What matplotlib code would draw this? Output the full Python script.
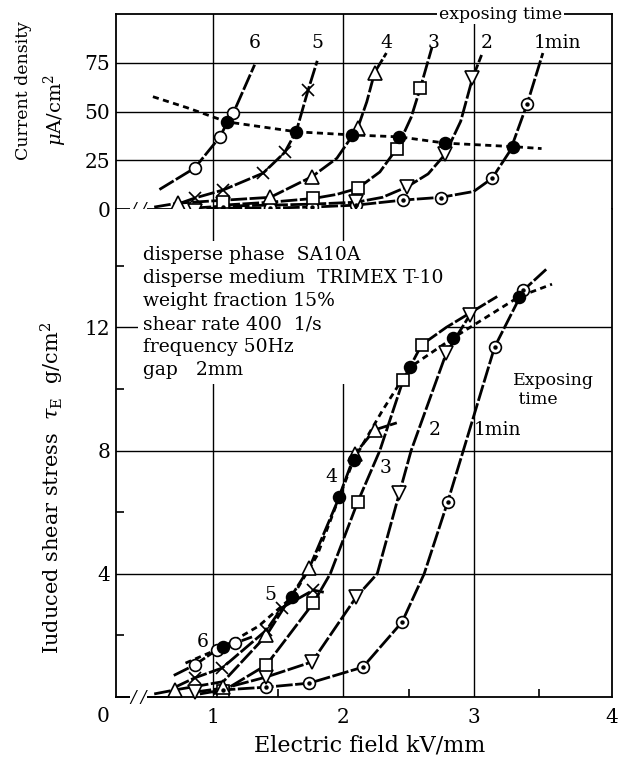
import matplotlib
matplotlib.use("Agg")
import matplotlib.pyplot as plt
import matplotlib.transforms as mtransforms

plt.rcParams["font.family"] = ["DejaVu Serif"]
plt.rcParams["mathtext.fontset"] = "dejavuserif"

# ---- upper panel : current density (uA/cm2) vs electric field (kV/mm) ----
cd1_lx = [0.95, 1.08, 1.44, 1.76, 2.10, 2.46, 2.75, 3.00, 3.14, 3.28, 3.41, 3.53]
cd1_ly = [0.3, 0.5, 0.5, 1.0, 2.0, 4.6, 6.0, 9.0, 15.7, 30.0, 54.0, 80.0]
cd1_x = [1.08, 1.44, 1.76, 2.10, 2.46, 2.75, 3.14, 3.41]
cd1_y = [1.0, 0.5, 1.0, 2.0, 4.6, 5.6, 15.7, 54.0]

cd2_lx = [0.86, 1.08, 1.44, 1.76, 2.10, 2.30, 2.49, 2.65, 2.78, 2.90, 2.99, 3.06]
cd2_ly = [0.5, 1.5, 2.0, 2.5, 3.5, 6.0, 11.4, 18.0, 28.0, 45.0, 67.0, 79.0]
cd2_x = [0.86, 1.08, 2.10, 2.49, 2.78, 2.99]
cd2_y = [-1.0, 2.5, 3.5, 11.4, 28.0, 67.0]

cd3_lx = [1.08, 1.44, 1.77, 1.95, 2.11, 2.28, 2.41, 2.52, 2.59, 2.68]
cd3_ly = [2.0, 3.5, 5.4, 7.5, 10.6, 19.0, 31.0, 47.0, 62.0, 83.0]
cd3_x = [1.08, 1.77, 2.11, 2.41, 2.59]
cd3_y = [3.5, 5.4, 10.6, 31.0, 62.0]

cd4_lx = [0.55, 0.73, 1.08, 1.44, 1.76, 1.95, 2.11, 2.18, 2.24, 2.33]
cd4_ly = [1.0, 3.0, 4.5, 6.0, 16.6, 26.0, 41.5, 55.0, 70.0, 80.0]
cd4_x = [0.73, 1.44, 1.76, 2.11, 2.24]
cd4_y = [3.0, 6.0, 16.6, 41.5, 70.0]

cd5_lx = [0.75, 0.86, 1.08, 1.385, 1.55, 1.64, 1.73, 1.80]
cd5_ly = [3.0, 5.6, 9.8, 18.4, 29.0, 40.0, 61.0, 76.0]
cd5_x = [0.86, 1.08, 1.385, 1.55, 1.73]
cd5_y = [5.6, 9.8, 18.4, 29.0, 61.0]

cd6_lx = [0.59, 0.86, 1.054, 1.107, 1.155, 1.32]
cd6_ly = [10.0, 21.0, 37.0, 44.0, 49.0, 74.0]
cd6_x = [0.86, 1.054, 1.155]
cd6_y = [21.0, 37.0, 49.0]

cdf_lx = [0.54, 0.80, 1.107, 1.64, 2.065, 2.43, 2.78, 3.30, 3.52]
cdf_ly = [57.6, 52.0, 44.7, 39.6, 38.0, 37.0, 33.8, 32.0, 31.0]
cdf_x = [1.107, 1.64, 2.065, 2.43, 2.78, 3.30]
cdf_y = [44.7, 39.6, 38.0, 37.0, 33.8, 32.0]

# ---- lower panel : induced shear stress (g/cm2) ----
s1_lx = [0.90, 1.08, 1.41, 1.74, 2.15, 2.45, 2.62, 2.80, 2.92, 3.16, 3.38, 3.56]
s1_ly = [0.10, 0.23, 0.32, 0.45, 0.97, 2.43, 4.0, 6.33, 8.0, 11.36, 13.2, 13.9]
s1_x = [1.08, 1.41, 1.74, 2.15, 2.45, 2.80, 3.16, 3.38]
s1_y = [0.23, 0.32, 0.45, 0.97, 2.43, 6.33, 11.36, 13.2]

s2_lx = [0.86, 1.10, 1.41, 1.76, 2.10, 2.26, 2.43, 2.52, 2.79, 2.97]
s2_ly = [0.16, 0.30, 0.65, 1.14, 3.25, 4.0, 6.62, 8.0, 11.17, 12.4]
s2_x = [0.86, 1.41, 1.76, 2.10, 2.43, 2.79, 2.97]
s2_y = [0.16, 0.65, 1.14, 3.25, 6.62, 11.17, 12.4]

s3_lx = [1.00, 1.08, 1.41, 1.77, 1.90, 2.11, 2.28, 2.46, 2.60, 2.79, 3.18]
s3_ly = [0.10, 0.20, 1.04, 3.05, 4.0, 6.33, 8.0, 10.3, 11.43, 12.0, 13.0]
s3_x = [1.08, 1.41, 1.77, 2.11, 2.46, 2.60]
s3_y = [0.20, 1.04, 3.05, 6.33, 10.3, 11.43]

s4_lx = [0.55, 0.71, 1.08, 1.41, 1.74, 1.95, 2.09, 2.24, 2.41]
s4_ly = [0.10, 0.23, 0.50, 2.00, 4.20, 6.30, 7.90, 8.67, 8.90]
s4_x = [0.71, 1.08, 1.41, 1.74, 2.09, 2.24]
s4_y = [0.23, 0.32, 2.00, 4.20, 7.90, 8.67]

s5_lx = [0.70, 0.86, 1.07, 1.41, 1.53, 1.77, 1.85]
s5_ly = [0.30, 0.62, 0.94, 2.17, 2.90, 3.47, 3.40]
s5_x = [0.86, 1.07, 1.41, 1.53, 1.77]
s5_y = [0.62, 0.94, 2.17, 2.90, 3.47]

s6_lx = [0.70, 0.86, 1.03, 1.17, 1.30]
s6_ly = [0.70, 1.04, 1.53, 1.75, 1.95]
s6_x = [0.86, 1.03, 1.17]
s6_y = [1.04, 1.53, 1.75]

sf_lx = [0.79, 1.08, 1.35, 1.61, 1.80, 1.97, 2.08, 2.30, 2.51, 2.84, 3.35, 3.60]
sf_ly = [1.10, 1.63, 2.30, 3.25, 4.60, 6.50, 7.70, 9.30, 10.7, 11.65, 13.0, 13.4]
sf_x = [1.08, 1.61, 1.97, 2.08, 2.51, 2.84, 3.35]
sf_y = [1.63, 3.25, 6.50, 7.70, 10.7, 11.65, 13.0]

exposing_labels = ["6", "5", "4", "3", "2", "1min"]
exposing_label_x = [1.32, 1.80, 2.33, 2.69, 3.10, 3.64]

conditions = ["disperse phase  SA10A",
              "disperse medium  TRIMEX T-10",
              "weight fraction 15%",
              "shear rate 400  1/s",
              "frequency 50Hz",
              "gap   2mm"]

XMIN, XMAX = 0.257, 4.06

fig = plt.figure(figsize=(6.27, 7.62), dpi=100)
ax_top = fig.add_axes([116 / 627, 0.7257, 496 / 627, 0.2559])
ax_bot = fig.add_axes([116 / 627, 0.0853, 496 / 627, 0.6404])

LW = 2.0
SOLID = (6, 0.9)
DASH = (2.2, 1.6)


def draw(ax, lx, ly, px, py, marker, dashes, ms=8.5, dot=False, filled=False):
    ax.plot(lx, ly, color="black", lw=LW, dashes=dashes, zorder=3,
            clip_on=False, solid_capstyle="butt")
    ax.plot(px, py, ls="none", marker=marker, ms=ms, mew=1.2,
            mec="black", mfc="black" if filled else "white",
            zorder=4, clip_on=False)
    if dot:
        ax.plot(px, py, ls="none", marker="o", ms=2.2, color="black",
                zorder=5, clip_on=False)


top_curves = [
    (cd1_lx, cd1_ly, cd1_x, cd1_y, "o", SOLID, 8.5, True, False),
    (cd2_lx, cd2_ly, cd2_x, cd2_y, "v", SOLID, 10, False, False),
    (cd3_lx, cd3_ly, cd3_x, cd3_y, "s", SOLID, 8.5, False, False),
    (cd4_lx, cd4_ly, cd4_x, cd4_y, "^", SOLID, 10, False, False),
    (cd5_lx, cd5_ly, cd5_x, cd5_y, "x", SOLID, 9, False, False),
    (cd6_lx, cd6_ly, cd6_x, cd6_y, "o", SOLID, 8.5, False, False),
    (cdf_lx, cdf_ly, cdf_x, cdf_y, "o", DASH, 8.5, False, True),
]
bot_curves = [
    (s1_lx, s1_ly, s1_x, s1_y, "o", SOLID, 8.5, True, False),
    (s2_lx, s2_ly, s2_x, s2_y, "v", SOLID, 10, False, False),
    (s3_lx, s3_ly, s3_x, s3_y, "s", SOLID, 8.5, False, False),
    (s4_lx, s4_ly, s4_x, s4_y, "^", SOLID, 10, False, False),
    (s5_lx, s5_ly, s5_x, s5_y, "x", SOLID, 9, False, False),
    (s6_lx, s6_ly, s6_x, s6_y, "o", SOLID, 8.5, False, False),
    (sf_lx, sf_ly, sf_x, sf_y, "o", DASH, 8.5, False, True),
]
for c in top_curves:
    draw(ax_top, *c)
for c in bot_curves:
    draw(ax_bot, *c)

# ---- axes cosmetics ----
for ax in (ax_top, ax_bot):
    ax.set_xlim(XMIN, XMAX)
    for s in ax.spines.values():
        s.set_linewidth(1.3)
    ax.tick_params(axis="both", which="major", length=0, labelsize=14.5, pad=4)
    ax.grid(True, which="major", color="black", lw=1.0)

ax_top.set_ylim(0, 100)
ax_top.spines["bottom"].set_visible(False)
ax_top.set_yticks([0, 25, 50, 75])
ax_top.set_xticks([1, 2, 3])
ax_top.tick_params(axis="x", labelbottom=False)
ax_top.get_ygridlines()[0].set_visible(False)

ax_bot.set_ylim(0, 15.84)
ax_bot.spines["top"].set_visible(False)
ax_bot.set_yticks([4, 8, 12])
ax_bot.set_yticks([2, 6, 10, 14], minor=True)
ax_bot.set_xticks([1, 2, 3, XMAX])
ax_bot.set_xticklabels(["1", "2", "3", "4"])
ax_bot.set_xticks([1.5, 2.5, 3.5], minor=True)
ax_bot.tick_params(axis="both", which="minor", direction="in", length=6, width=1.2)
ax_bot.tick_params(axis="x", which="major", pad=8)
ax_bot.get_xgridlines()[-1].set_visible(False)

# corner zero
ax_bot.text(-0.026, -0.02, "0", transform=ax_bot.transAxes, fontsize=14.5,
            ha="center", va="top")

# axis break marks
for ax in (ax_top, ax_bot):
    tr = mtransforms.blended_transform_factory(ax.transAxes, ax.transData)
    ax.plot([0, 0.11], [0, 0], color="black", lw=1.3, transform=tr,
            clip_on=False, zorder=2)
    ax.text(0.045, 0, "/ /", transform=tr, fontsize=12, ha="center",
            va="center", style="italic", zorder=6,
            bbox=dict(boxstyle="square,pad=0.0", fc="white", ec="none"))

# curve numbers (exposing time)
for lab, xv in zip(exposing_labels, exposing_label_x):
    ax_top.text(xv, 85, lab, fontsize=13.5, ha="center", va="center", zorder=6)
ax_top.text(0.775, 1.0, "exposing time", transform=ax_top.transAxes, fontsize=12.5,
            ha="center", va="center", zorder=7,
            bbox=dict(boxstyle="square,pad=0.1", fc="white", ec="none"))

ax_bot.text(3.30, 9.97, "Exposing\n time", fontsize=12.5, ha="left", va="center",
            linespacing=1.2, zorder=6)
ax_bot.text(2.70, 8.67, "2", fontsize=13.5, ha="center", va="center", zorder=6)
ax_bot.text(3.18, 8.67, "1min", fontsize=13.5, ha="center", va="center", zorder=6)
ax_bot.text(2.32, 7.43, "3", fontsize=13.5, ha="center", va="center", zorder=6)
ax_bot.text(1.91, 7.14, "4", fontsize=13.5, ha="center", va="center", zorder=6)
ax_bot.text(1.44, 3.3, "5", fontsize=13.5, ha="center", va="center", zorder=6)
ax_bot.text(0.92, 1.79, "6", fontsize=13.5, ha="center", va="center", zorder=6)

# experimental conditions, white box hides the grid behind it but not the curves
ax_bot.text(143 / 627, 1 - 246 / 762, "\n".join(conditions), fontsize=13.5,
            transform=fig.transFigure, ha="left", va="top", linespacing=1.36,
            zorder=2, bbox=dict(boxstyle="square,pad=0.25", fc="white", ec="none"))

# axis labels
fig.text(24 / 627, 1 - 91 / 762, "Current density", rotation=90, fontsize=12.5,
         ha="center", va="center")
fig.text(55 / 627, 1 - 110 / 762, r"$\mu$A/cm$^2$", rotation=90, fontsize=14,
         ha="center", va="center")
fig.text(52 / 627, 1 - 488 / 762, r"Iuduced shear stress  $\tau_{\rm E}$  g/cm$^2$",
         rotation=90, fontsize=15, ha="center", va="center")
fig.text(370 / 627, 1 - 745 / 762, "Electric field kV/mm", fontsize=16,
         ha="center", va="center")

fig.savefig("out.png", dpi=100, facecolor="white")
